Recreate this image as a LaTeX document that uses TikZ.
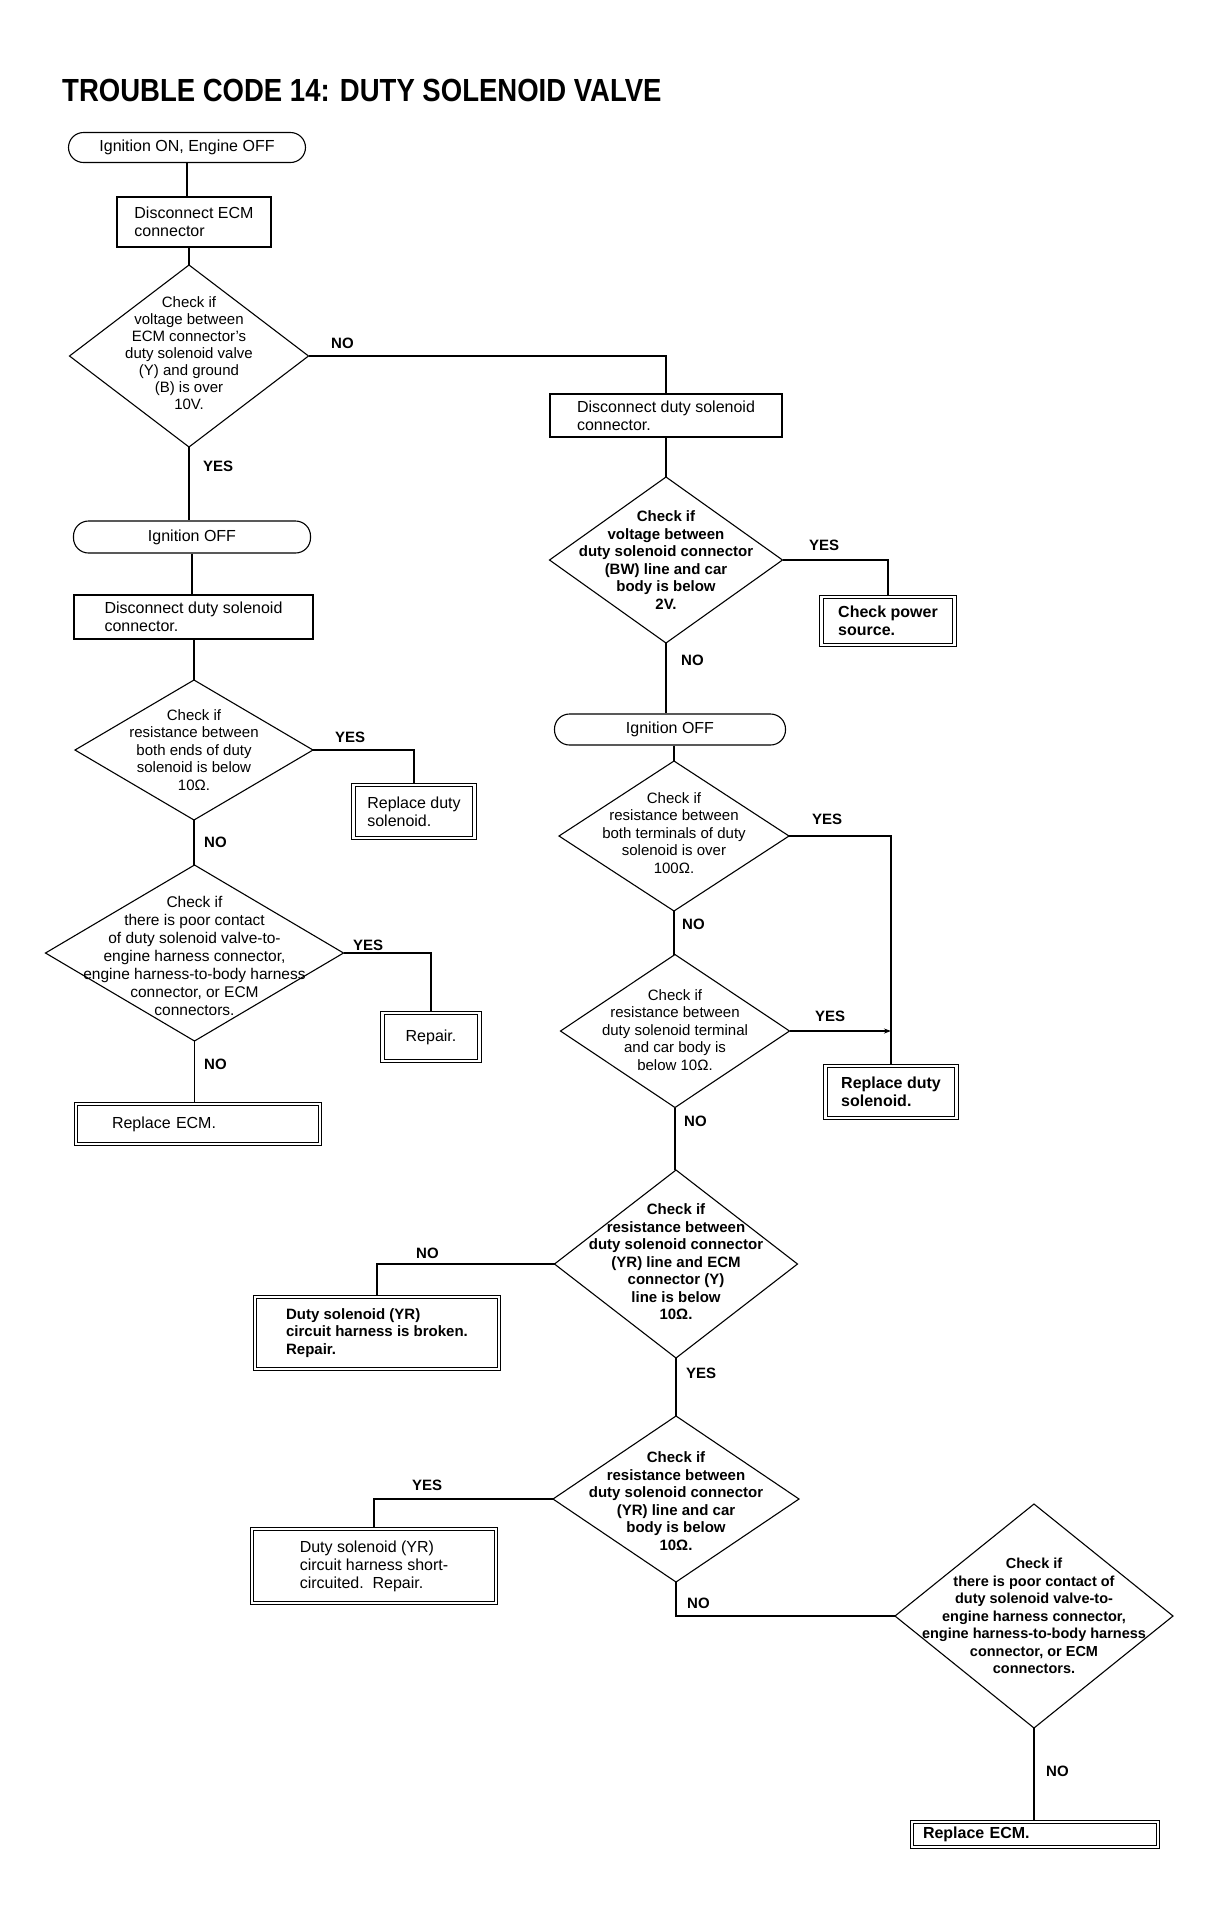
\documentclass[tikz,border=0pt]{standalone}
\usepackage{fontspec}
\setmainfont{Liberation Sans}
\newfontfamily\titlefont{Liberation Sans}[FakeStretch=0.86]
\usetikzlibrary{shapes.geometric,arrows.meta}
\newcommand\myfs{\fontsize{15}{17.5}\selectfont}
\newcommand\myboxfs{\fontsize{16}{18}\selectfont}
\begin{document}
\begin{tikzpicture}[x=1pt,y=-1pt,
  ln/.style={line width=1.2pt},
  proc/.style={draw, line width=1.1pt, align=left, inner sep=0pt, font=\myboxfs},
  fin/.style={draw, line width=1.1pt, double, double distance=2.4pt, align=left, inner sep=0pt, font=\myboxfs},
  term/.style={draw, line width=1.1pt, rounded corners=15pt, align=center, inner sep=0pt, font=\myboxfs},
  dia/.style={draw, diamond, line width=1.1pt, inner sep=0pt, outer sep=0pt},
  dtext/.style={align=center, inner sep=0pt, font=\myfs},
  lab/.style={anchor=base west, inner sep=0pt, font=\myfs\bfseries},
]
\fill[white] (0,0) rectangle (1210,1931);
\useasboundingbox (0,0) rectangle (1210,1931);

\node[anchor=base west, inner sep=0pt, font=\titlefont\bfseries\fontsize{32}{36}\selectfont] (title) at (62,101) {TROUBLE CODE 14: DUTY SOLENOID VALVE};

% ---------- top / left column ----------
\node[term, minimum width=237, minimum height=30] (s) at (187,147.5) {Ignition ON, Engine OFF};
\node[proc, minimum width=154, minimum height=50] (b1) at (194,222) {Disconnect ECM\\connector};
\node[dia, minimum width=239, minimum height=182] (d1) at (189,356) {};
\node[dtext, font=\fontsize{15}{17}\selectfont] (t1) at (189,353) {Check if\\voltage between\\ECM connector's\\duty solenoid valve\\(Y) and ground\\(B) is over\\10V.};

\node[term, minimum width=237, minimum height=32] (lt) at (192,537) {Ignition OFF};
\node[proc, minimum width=239, minimum height=44] (b3) at (193.5,617) {Disconnect duty solenoid\\connector.};
\node[dia, minimum width=238, minimum height=140] (d8) at (194,750) {};
\node[dtext] (t8) at (194,750) {Check if\\resistance between\\both ends of duty\\solenoid is below\\10Ω.};
\node[fin, minimum width=121, minimum height=53] (rl) at (414,811.5) {Replace duty\\solenoid.};
\node[dia, minimum width=298, minimum height=176] (d9) at (194.5,953) {};
\node[dtext, font=\fontsize{15.5}{18}\selectfont] (t9) at (194.5,956) {Check if\\there is poor contact\\of duty solenoid valve-to-\\engine harness connector,\\engine harness-to-body harness\\connector, or ECM\\connectors.};
\node[fin, minimum width=97, minimum height=48] (rp) at (431,1037) {Repair.};
\node[fin, minimum height=40, text width=172, inner xsep=36pt] (le) at (198,1124) {Replace ECM.};

% ---------- right column ----------
\node[proc, minimum width=232, minimum height=43] (b2) at (666,415.5) {Disconnect duty solenoid\\connector.};
\node[dia, minimum width=233, minimum height=166] (d2) at (666,560) {};
\node[dtext, font=\myfs\bfseries] (t2) at (666,560) {Check if\\voltage between\\duty solenoid connector\\(BW) line and car\\body is below\\2V.};
\node[fin, minimum width=133, minimum height=48, font=\myboxfs\bfseries] (cp) at (888,621) {Check power\\source.};
\node[term, minimum width=231, minimum height=31] (rt) at (670,729.5) {Ignition OFF};
\node[dia, minimum width=230, minimum height=150] (d3) at (674,836) {};
\node[dtext] (t3) at (674,833) {Check if\\resistance between\\both terminals of duty\\solenoid is over\\100Ω.};
\node[dia, minimum width=229, minimum height=153] (d4) at (675,1031) {};
\node[dtext] (t4) at (675,1030) {Check if\\resistance between\\duty solenoid terminal\\and car body is\\below 10Ω.};
\node[fin, minimum width=131, minimum height=52, font=\myboxfs\bfseries] (rd) at (891,1092) {Replace duty\\solenoid.};
\node[dia, minimum width=243, minimum height=188] (d5) at (676,1264) {};
\node[dtext, font=\myfs\bfseries] (t5) at (676,1262) {Check if\\resistance between\\duty solenoid connector\\(YR) line and ECM\\connector (Y)\\line is below\\10Ω.};
\node[fin, minimum width=244, minimum height=72, font=\myfs\bfseries] (br) at (377,1333) {Duty solenoid (YR)\\circuit harness is broken.\\Repair.};
\node[dia, minimum width=246, minimum height=166] (d6) at (676,1499) {};
\node[dtext, font=\myfs\bfseries] (t6) at (676,1501) {Check if\\resistance between\\duty solenoid connector\\(YR) line and car\\body is below\\10Ω.};
\node[fin, minimum width=244, minimum height=74] (sc) at (374,1566) {Duty solenoid (YR)\\circuit harness short-\\circuited.\ \ Repair.};
\node[dia, minimum width=278, minimum height=224] (d7) at (1034,1616) {};
\node[dtext, font=\fontsize{14.5}{17.5}\selectfont\bfseries] (t7) at (1034,1616) {Check if\\there is poor contact of\\duty solenoid valve-to-\\engine harness connector,\\engine harness-to-body harness\\connector, or ECM\\connectors.};
\node[fin, minimum height=25, text width=224, inner xsep=11pt, font=\myboxfs\bfseries] (re2) at (1035,1834.5) {Replace ECM.};

% ---------- labels ----------
\node[lab] (l1) at (331,348) {NO};
\node[lab] (l2) at (203,471) {YES};
\node[lab] (l3) at (809,550) {YES};
\node[lab] (l4) at (681,665) {NO};
\node[lab] (l5) at (335,742) {YES};
\node[lab] (l6) at (204,847) {NO};
\node[lab] (l7) at (812,824) {YES};
\node[lab] (l8) at (682,929) {NO};
\node[lab] (l9) at (353,950) {YES};
\node[lab] (l10) at (815,1021) {YES};
\node[lab] (l11) at (204,1069) {NO};
\node[lab] (l12) at (684,1126) {NO};
\node[lab] (l13) at (416,1258) {NO};
\node[lab] (l14) at (686,1378) {YES};
\node[lab] (l15) at (412,1490) {YES};
\node[lab] (l16) at (687,1608) {NO};
\node[lab] (l17) at (1046,1776) {NO};

% ---------- connectors ----------
\draw[ln] (s.south) -- (s.south |- b1.north);
\draw[ln] (b1.south -| d1.north) -- (d1.north);
\draw[ln] (d1.east) -| (b2.north);
\draw[ln] (b2.south) -- (d2.north);
\draw[ln] (d2.east) -| (cp.north);
\draw[ln] (d2.south) -- (d2.south |- rt.north);
\draw[ln] (rt.south -| d3.north) -- (d3.north);
\draw[ln] (d3.east) -| (rd.north);
\draw[ln,-{Stealth[length=7pt,width=5pt]}] (d4.east) -- (d4.east -| rd.north);
\draw[ln] (d3.south) -- (d3.south |- d4.north);
\draw[ln] (d4.south) -- (d4.south |- d5.north);
\draw[ln] (d5.west) -| (br.north);
\draw[ln] (d5.south) -- (d6.north);
\draw[ln] (d6.west) -| (sc.north);
\draw[ln] (d6.south) |- (d7.west);
\draw[ln] (d7.south) -- (d7.south |- re2.north);
\draw[ln] (d1.south) -- (d1.south |- lt.north);
\draw[ln] (lt.south) -- (lt.south |- b3.north);
\draw[ln] (b3.south -| d8.north) -- (d8.north);
\draw[ln] (d8.east) -| (rl.north);
\draw[ln] (d8.south) -- (d8.south |- d9.north);
\draw[ln] (d9.east) -| (rp.north);
\draw[ln] (d9.south) -- (d9.south |- le.north);
\end{tikzpicture}
\end{document}
